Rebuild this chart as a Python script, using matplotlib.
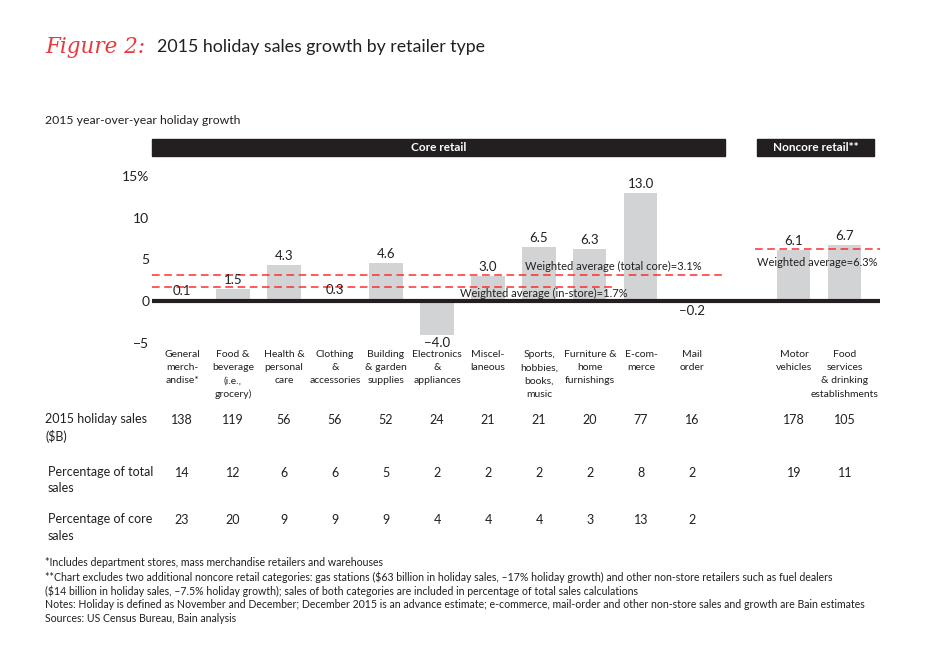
import matplotlib
matplotlib.use("Agg")
import matplotlib.pyplot as plt
from matplotlib.patches import Rectangle
import numpy as np

plt.rcParams['font.family'] = ['Lato', 'DejaVu Sans']

# data
core_labels = ["General\nmerch-\nandise*", "Food &\nbeverage\n(i.e.,\ngrocery)",
               "Health &\npersonal\ncare", "Clothing\n&\naccessories",
               "Building\n& garden\nsupplies", "Electronics\n&\nappliances",
               "Miscel-\nlaneous", "Sports,\nhobbies,\nbooks,\nmusic",
               "Furniture &\nhome\nfurnishings", "E-com-\nmerce", "Mail\norder"]
core_growth = [0.1, 1.5, 4.3, 0.3, 4.6, -4.0, 3.0, 6.5, 6.3, 13.0, -0.2]
noncore_labels = ["Motor\nvehicles", "Food\nservices\n& drinking\nestablishments"]
noncore_growth = [6.1, 6.7]

sales_b = [138, 119, 56, 56, 52, 24, 21, 21, 20, 77, 16, 178, 105]
pct_total = [14, 12, 6, 6, 5, 2, 2, 2, 2, 8, 2, 19, 11]
pct_core = [23, 20, 9, 9, 9, 4, 4, 4, 3, 13, 2]

avg_core = 3.1
avg_instore = 1.7
avg_noncore = 6.3

row_labels = ["2015 holiday sales\n($B)", "Percentage of total\nsales",
              "Percentage of core\nsales"]

footnotes = [
    "*Includes department stores, mass merchandise retailers and warehouses",
    "**Chart excludes two additional noncore retail categories: gas stations ($63 billion in holiday sales, \u201317% holiday growth) and other non-store retailers such as fuel dealers",
    "($14 billion in holiday sales, \u20137.5% holiday growth); sales of both categories are included in percentage of total sales calculations",
    "Notes: Holiday is defined as November and December; December 2015 is an advance estimate; e-commerce, mail-order and other non-store sales and growth are Bain estimates",
    "Sources: US Census Bureau, Bain analysis",
]

W, H = 950, 660
dark = '#231f20'
fig = plt.figure(figsize=(9.5, 6.6), dpi=100)

# axes placed in pixel coords: x 152..880, y(15)=176 .. y(-5)=343
ax = fig.add_axes([152 / W, 1 - 343 / H, 728 / W, 167 / H])
ax.set_xlim(-0.59, 13.69)
ax.set_ylim(-5, 15)
for s in ax.spines.values():
    s.set_visible(False)
ax.set_xticks([])
ax.set_yticks([-5, 0, 5, 10, 15])
ax.set_yticklabels(["\u22125", "0", "5", "10", "15%"])
ax.tick_params(axis='y', length=0, pad=2, labelsize=10, labelcolor=dark)

core_x = np.arange(len(core_growth))
noncore_x = np.arange(len(noncore_growth)) + 12
bar_c = '#d1d3d4'
ax.bar(core_x, core_growth, width=0.65, color=bar_c, zorder=2)
ax.bar(noncore_x, noncore_growth, width=0.65, color=bar_c, zorder=2)

ax.axhline(0, color=dark, lw=3, zorder=4)

all_x = list(core_x) + list(noncore_x)
all_g = core_growth + noncore_growth
for x, g in zip(all_x, all_g):
    lab = f"{g:.1f}".replace("-", "\u2212")
    if g >= 0:
        ax.text(x, g + 0.35, lab, ha='center', va='bottom', fontsize=9.5, color=dark, zorder=5)
    else:
        ax.text(x, g - 0.25, lab, ha='center', va='top', fontsize=9.5, color=dark, zorder=5,
                clip_on=False)

# weighted averages
red = '#ff2d2d'
ax.plot([-0.59, 10.65], [avg_core, avg_core], ls=(0, (5, 3)), color=red, lw=1.1, zorder=3)
ax.plot([-0.59, 8.45], [avg_instore, avg_instore], ls=(0, (5, 3)), color=red, lw=1.1, zorder=3)
ax.plot([11.24, 13.69], [avg_noncore, avg_noncore], ls=(0, (5, 3)), color=red, lw=1.1, zorder=3,
        clip_on=False)
ax.text(6.72, 4.2, f"Weighted average (total core)={avg_core}%", fontsize=8, va='center',
        color=dark, zorder=5)
ax.text(5.45, 0.95, f"Weighted average (in-store)={avg_instore}%", fontsize=8, va='center',
        color=dark, zorder=5)
ax.text(11.28, 4.7, f"Weighted average={avg_noncore}%", fontsize=8, va='center',
        color=dark, zorder=5)

# header bars
ax.add_patch(Rectangle((-0.59, 17.4), 11.24, 2.05, color=dark, clip_on=False))
ax.text((-0.59 + 10.65) / 2, 18.42, "Core retail", color='white', fontsize=8.5,
        fontweight='bold', ha='center', va='center')
ax.add_patch(Rectangle((11.28, 17.4), 2.3, 2.05, color=dark, clip_on=False))
ax.text(11.28 + 1.15, 18.42, "Noncore retail**", color='white', fontsize=8.5,
        fontweight='bold', ha='center', va='center')


# category labels and table columns share the bar positions
def xpix(x):
    return (182 + 51 * x) / W


for x, lab in zip(all_x, core_labels + noncore_labels):
    fig.text(xpix(x), 1 - 350 / H, lab, ha='center', va='top', fontsize=7.5,
             color=dark, linespacing=1.6)

# table rows
row_y = [420, 473, 520]
rows = [sales_b, pct_total, pct_core]
for ry, lab, vals in zip(row_y, row_labels, rows):
    fig.text((45 if ry == 420 else 48) / W, 1 - (ry - 7) / H, lab, ha='left', va='top',
             fontsize=9, color=dark, linespacing=1.45)
    for x, v in zip(all_x, vals):
        fig.text(xpix(x), 1 - ry / H, str(v), ha='center', va='center', fontsize=9, color=dark)

# titles
fig.text(45 / W, 1 - 47 / H, "Figure 2:", fontsize=15.5, color='#e8393f',
         family='DejaVu Serif', style='italic', va='center')
fig.text(157 / W, 1 - 47 / H, "2015 holiday sales growth by retailer type", fontsize=12.8,
         color=dark, va='center')
fig.text(45 / W, 1 - 121 / H, "2015 year-over-year holiday growth", fontsize=8.8,
         color=dark, va='center')

for i, t in enumerate(footnotes):
    fig.text(45 / W, 1 - (563 + 14 * i) / H, t, fontsize=7.6, color=dark, va='center')

fig.savefig("out.png", dpi=100)
